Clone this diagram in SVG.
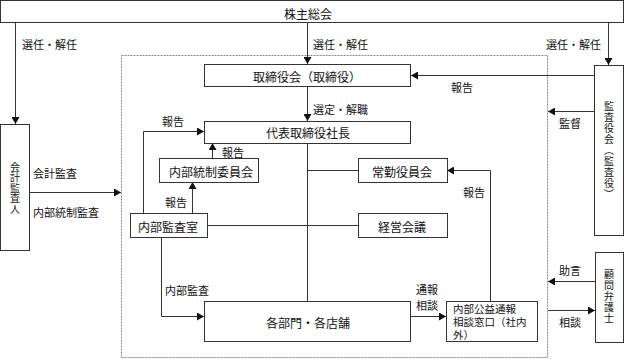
<svg xmlns="http://www.w3.org/2000/svg" width="625" height="360" viewBox="0 0 625 360">
<defs>
<marker id="arr" markerUnits="userSpaceOnUse" markerWidth="8" markerHeight="8" refX="7" refY="4" orient="auto">
<path d="M0,0 L7,4 L0,8 z" fill="#111"/>
</marker>
<style>
text{font-family:"Noto Sans CJK JP","Noto Sans CJK SC",sans-serif;fill:#111}
.b{font-size:12px;text-anchor:middle;dominant-baseline:central}
.l{font-size:11px;dominant-baseline:central}
.c{text-anchor:middle}
.v{font-size:10px;writing-mode:vertical-rl;text-anchor:middle;letter-spacing:1px}
.box{fill:#fff;stroke:#333;stroke-width:1}
.ln{fill:none;stroke:#333;stroke-width:1}
.ar{marker-end:url(#arr)}
.dash{fill:none;stroke:#888;stroke-width:1;stroke-dasharray:2 1}
</style>
</defs>
<rect width="625" height="360" fill="#fff"/>
<rect class="dash" x="121.5" y="55.5" width="426" height="302"/>

<g id="connectors">
<path class="ln ar" d="M15.5,23 V124"/>
<path class="ln ar" d="M307.5,23 V64"/>
<path class="ln ar" d="M608.5,23 V65"/>
<path class="ln ar" d="M594,75.5 H411"/>
<path class="ln ar" d="M594,111.5 H548"/>
<path class="ln ar" d="M307.5,87 V121"/>
<path class="ln ar" d="M143.5,213 V131.5 H204"/>
<path class="ln ar" d="M212.5,158 V143"/>
<path class="ln ar" d="M192.5,213 V182"/>
<path class="ln" d="M207,225.5 H358"/>
<path class="ln" d="M307.5,143 V301"/>
<path class="ln" d="M307.5,170.5 H358"/>
<path class="ln ar" d="M161.5,237 V316.5 H204"/>
<path class="ln ar" d="M410,316.5 H446"/>
<path class="ln ar" d="M490.5,301 V170.5 H447"/>
<path class="ln ar" d="M595,281.5 H548"/>
<path class="ln ar" d="M548,310.5 H595"/>
<path class="ln ar" d="M29,192.5 H121"/>
</g>

<g id="labels">
<text class="l" x="22" y="44">選任・解任</text>
<text class="l" x="313" y="44">選任・解任</text>
<text class="l" x="546" y="44">選任・解任</text>
<text class="l c" x="462" y="87">報告</text>
<text class="l c" x="570" y="123">監督</text>
<text class="l" x="313" y="109">選定・解職</text>
<text class="l c" x="173" y="121">報告</text>
<text class="l" x="222" y="152">報告</text>
<text class="l" x="165" y="202">報告</text>
<text class="l c" x="474" y="192">報告</text>
<text class="l" x="165" y="290">内部監査</text>
<text class="l" x="416" y="289">通報</text>
<text class="l" x="416" y="305">相談</text>
<text class="l" x="33" y="173">会計監査</text>
<text class="l" x="33" y="212">内部統制監査</text>
<text class="l c" x="570" y="270">助言</text>
<text class="l c" x="570" y="322">相談</text>
</g>

<g id="kabunushi">
<rect class="box" x="0.5" y="0.5" width="623" height="22"/>
<text class="b" x="308" y="13">株主総会</text>
</g>
<g id="kaikei">
<rect class="box" x="0.5" y="124.5" width="29" height="126"/>
<text class="v" x="15" y="188" style="letter-spacing:0.5px">会計監査人</text>
</g>
<g id="torishimariyakukai">
<rect class="box" x="204.5" y="64.5" width="206" height="22"/>
<text class="b" x="307" y="76">取締役会（取締役）</text>
</g>
<g id="daihyo">
<rect class="box" x="204.5" y="121.5" width="206" height="22"/>
<text class="b" x="308" y="132">代表取締役社長</text>
</g>
<g id="kansayakukai">
<rect class="box" x="594.5" y="65.5" width="29" height="170"/>
<text class="v" x="609" y="151">監査役会（監査役）</text>
</g>
<g id="naibutousei">
<rect class="box" x="159.5" y="158.5" width="99" height="24"/>
<text class="b" x="211" y="171">内部統制委員会</text>
</g>
<g id="joukin">
<rect class="box" x="358.5" y="158.5" width="89" height="24"/>
<text class="b" x="402" y="171">常勤役員会</text>
</g>
<g id="naibukansa">
<rect class="box" x="130.5" y="213.5" width="77" height="24"/>
<text class="b" x="168" y="226">内部監査室</text>
</g>
<g id="keiei">
<rect class="box" x="358.5" y="213.5" width="89" height="24"/>
<text class="b" x="402" y="226">経営会議</text>
</g>
<g id="kakubumon">
<rect class="box" x="204.5" y="301.5" width="206" height="40"/>
<text class="b" x="308" y="322">各部門・各店舗</text>
</g>
<g id="koueki">
<rect class="box" x="446.5" y="301.5" width="91" height="40"/>
<text style="font-size:10.5px"><tspan x="453" y="313">内部公益通報</tspan><tspan x="453" y="326">相談窓口（社内</tspan><tspan x="453" y="339">外）</tspan></text>
</g>
<g id="komon">
<rect class="box" x="595.5" y="252.5" width="28" height="90"/>
<text class="v" x="609" y="297">顧問弁護士</text>
</g>
</svg>
